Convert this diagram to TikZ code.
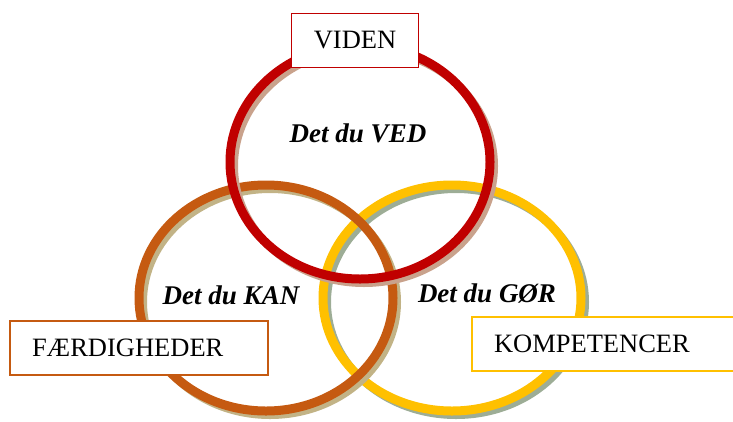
\documentclass[tikz,border=0pt]{standalone}
\usepackage{fontspec}
\setmainfont{Liberation Serif}
\definecolor{vedred}{HTML}{C00000}
\definecolor{kanorange}{HTML}{C55A11}
\definecolor{goryellow}{HTML}{FFC000}
\definecolor{vedshadow}{HTML}{C9A28C}
\definecolor{kanshadow}{HTML}{C2B386}
\definecolor{gorshadow}{HTML}{9DAD96}
\tikzset{
  ring/.style={line width=9pt},
  ringshadow/.style={line width=8pt},
  labelbox/.style={draw, line width=1.4pt, fill=white, minimum height=54pt, inner xsep=22pt},
  ringtext/.style={font=\fontsize{27}{32}\selectfont\bfseries\itshape}
}
\begin{document}
\begin{tikzpicture}[x=1pt,y=-1pt, every node/.style={font=\fontsize{26.5}{31}\selectfont}]
		\useasboundingbox (0,0) rectangle (733,421);
		
		% the three rings, each with its shadow
		\draw[ringshadow, gorshadow] (456,302) ellipse [x radius=129pt, y radius=113pt];
		\draw[ring, goryellow] (452,298) ellipse [x radius=129pt, y radius=113pt];
		\draw[ringshadow, kanshadow] (270,302) ellipse [x radius=127pt, y radius=113pt];
		\draw[ring, kanorange] (266,298) ellipse [x radius=127pt, y radius=113pt];
		\draw[ringshadow, vedshadow] (364,166) ellipse [x radius=130pt, y radius=117pt];
		\draw[ring, vedred] (360,162) ellipse [x radius=130pt, y radius=117pt];
		
		\node[ringtext] (ved) at (358,133) {Det du VED};
		\node[ringtext] (kan) at (231,295) {Det du KAN};
		\node[ringtext] (gor) at (487,293) {Det du GØR};
		
		% labels
		\node[labelbox, draw=vedred, minimum width=126pt] (viden) at (355,40.5) {VIDEN};
		\node[labelbox, draw=kanorange, minimum width=258pt, text width=214pt, align=left] (faerdig) at (139,348) {FÆRDIGHEDER};
		\node[labelbox, draw=goryellow, minimum width=264pt, text width=220pt, align=left] (kompet) at (604,344) {KOMPETENCER};
		
	\end{tikzpicture}
\end{document}
